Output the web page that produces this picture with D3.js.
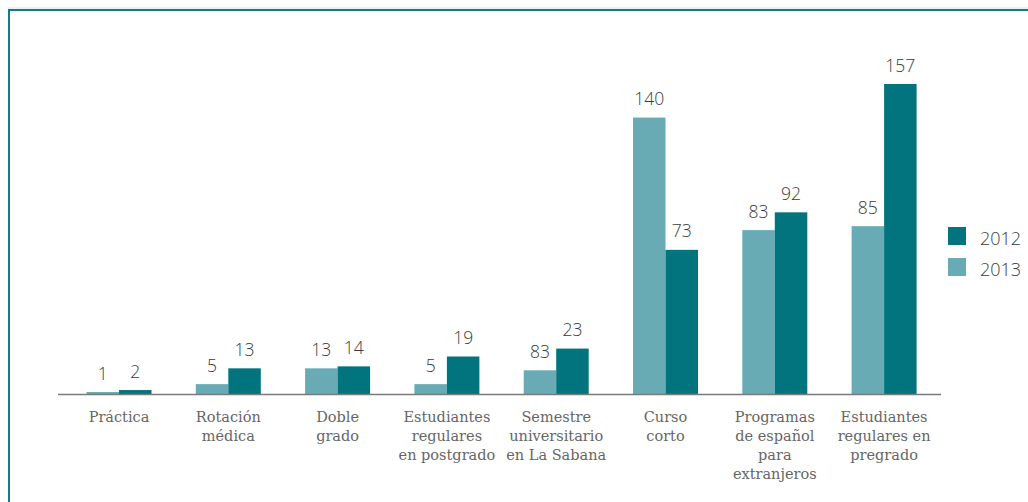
<!DOCTYPE html>
<html><head><meta charset="utf-8">
<script src="https://cdn.jsdelivr.net/npm/d3@7"></script>
<style>body{margin:0;background:#fff}svg{display:block}</style>
</head><body>
<svg id="c" width="1028" height="502"></svg>
<script>
const categories = [
  ["Práctica"],
  ["Rotación","médica"],
  ["Doble","grado"],
  ["Estudiantes","regulares","en postgrado"],
  ["Semestre","universitario","en La Sabana"],
  ["Curso","corto"],
  ["Programas","de español","para","extranjeros"],
  ["Estudiantes","regulares en","pregrado"]
];
const series = ["2013","2012"];
const values2013 = [1, 5, 13, 5, 12, 140, 83, 85];
const labels2013 = ["1","5","13","5","83","140","83","85"];
const values2012 = [2, 13, 14, 19, 23, 73, 92, 157];
const labels2012 = ["2","13","14","19","23","73","92","157"];
const legendOrder = ["2012","2013"];

const colors = {"2012":"#02747e","2013":"#68abb4"};
const svg = d3.select("#c");

// frame
svg.append("rect").attr("x",9).attr("y",8).attr("width",1040).attr("height",520)
  .attr("fill","none").attr("stroke","#cfe3e4").attr("stroke-width",1);
svg.append("rect").attr("x",9).attr("y",10).attr("width",1040).attr("height",520)
  .attr("fill","none").attr("stroke","#157c82").attr("stroke-width",2);

const idx = d3.range(categories.length);
const x = d3.scaleBand().domain(idx).range([64.35, 938.75]);
const xs = d3.scaleBand().domain(series).range([0, 65]);
const y = d3.scaleLinear().domain([0,157]).range([394, 84]);

const data = [];
idx.forEach(i=>{
  data.push({i, s:"2013", v:values2013[i], l:labels2013[i]});
  data.push({i, s:"2012", v:values2012[i], l:labels2012[i]});
});

const g = svg.append("g");
g.selectAll("rect.bar").data(data).enter().append("rect")
  .attr("class","bar")
  .attr("x", d => x(d.i) + x.bandwidth()/2 - 32.5 + xs(d.s))
  .attr("width", xs.bandwidth())
  .attr("y", d => y(d.v))
  .attr("height", d => y(0) - y(d.v))
  .attr("fill", d => colors[d.s]);

g.selectAll("text.val").data(data).enter().append("text")
  .attr("class","val")
  .attr("x", d => x(d.i) + x.bandwidth()/2 - 32.5 + xs(d.s) + xs.bandwidth()/2)
  .attr("y", d => y(d.v) - 12.5)
  .attr("text-anchor","middle")
  .attr("font-family","'Open Sans', Lato, sans-serif")
  .attr("font-weight",300)
  .attr("font-size",17.5)
  .attr("fill","#3a3a3a")
  .text(d => d.l);

// baseline
svg.append("line").attr("x1",58).attr("x2",941).attr("y1",y(0)+0.5).attr("y2",y(0)+0.5)
  .attr("stroke","#7a7a7a").attr("stroke-width",1.5);

// category labels
const cl = svg.selectAll("text.cat").data(idx).enter().append("text")
  .attr("class","cat")
  .attr("text-anchor","middle")
  .attr("font-family","'DejaVu Serif', serif")
  .attr("font-size",14.5)
  .attr("fill","#666");
cl.each(function(i){
  const t = d3.select(this);
  categories[i].forEach((line,k)=>{
    t.append("tspan").attr("x", x(i)+x.bandwidth()/2).attr("y", 422 + k*19).text(line);
  });
});

// legend
const lg = svg.append("g");
legendOrder.forEach((s,k)=>{
  lg.append("rect").attr("x",948).attr("y",227 + k*31).attr("width",18).attr("height",18).attr("fill",colors[s]);
  lg.append("text").attr("x",980).attr("y",245 + k*31)
    .attr("font-family","'Open Sans', Lato, sans-serif").attr("font-weight",300)
    .attr("font-size",18).attr("fill","#3a3a3a").text(s);
});
</script>
</body></html>
